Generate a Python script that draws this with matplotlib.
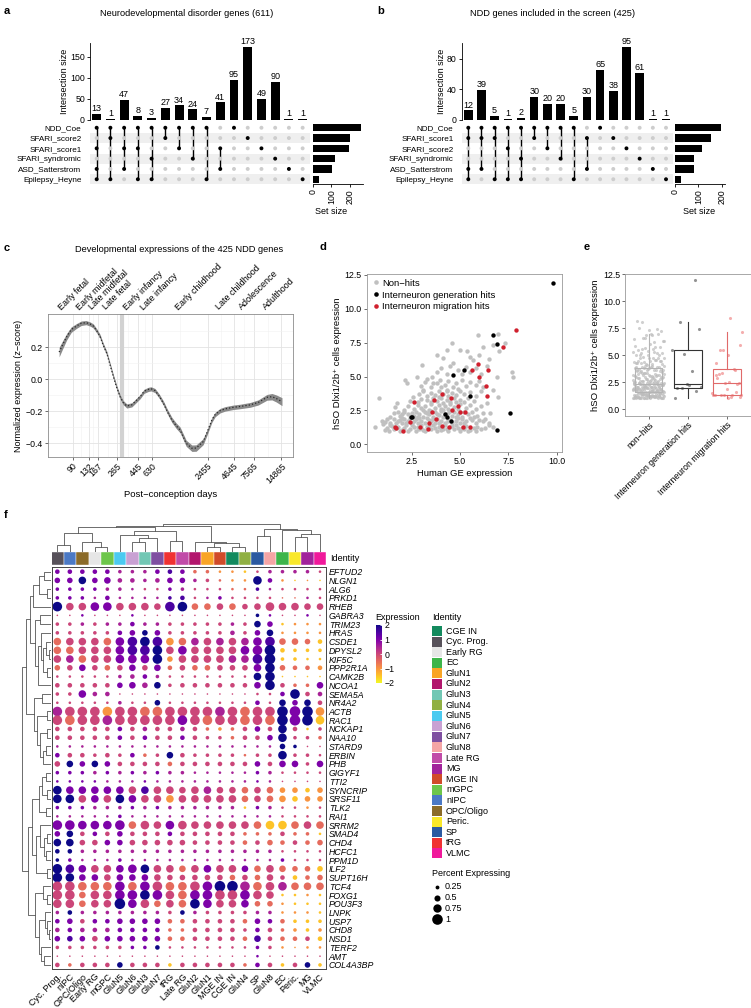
import numpy as np
import matplotlib
matplotlib.use("Agg")
import matplotlib.pyplot as plt
from matplotlib.lines import Line2D
from matplotlib.patches import Rectangle
from matplotlib.colors import Normalize
from matplotlib.cm import ScalarMappable
from matplotlib.ticker import FixedLocator, NullFormatter, NullLocator

plt.rcParams['font.family'] = ['Liberation Sans', 'DejaVu Sans']
plt.rcParams['font.size'] = 6
plt.rcParams['axes.linewidth'] = 0.6
plt.rcParams['xtick.major.width'] = 0.6
plt.rcParams['ytick.major.width'] = 0.6
plt.rcParams['xtick.major.size'] = 2
plt.rcParams['ytick.major.size'] = 2
plt.rcParams['xtick.major.pad'] = 1.5
plt.rcParams['ytick.major.pad'] = 1.5

# ---------------- data ----------------
# a / b : upset plots
sets_a = ['NDD_Coe', 'SFARI_score2', 'SFARI_score1', 'SFARI_syndromic', 'ASD_Satterstrom', 'Epilepsy_Heyne']
inter_a = [13, 1, 47, 8, 3, 27, 34, 24, 7, 41, 95, 173, 49, 90, 1, 1]
members_a = [[0, 2, 4, 5], [0, 1, 5], [0, 2, 4], [0, 2, 5], [0, 3, 5], [0, 1], [0, 2], [0, 3], [0, 5],
             [2, 4], [0], [1], [2], [3], [4], [5]]

sets_b = ['NDD_Coe', 'SFARI_score1', 'SFARI_score2', 'SFARI_syndromic', 'ASD_Satterstrom', 'Epilepsy_Heyne']
inter_b = [12, 39, 5, 1, 2, 30, 20, 20, 5, 30, 65, 38, 95, 61, 1, 1]
members_b = [[0, 1, 4, 5], [0, 1, 4], [0, 1, 5], [0, 2, 5], [0, 3, 5], [0, 1], [0, 2], [0, 3], [0, 5],
             [1, 4], [0], [1], [2], [3], [4], [5]]

# c : developmental trajectory
age_ticks = [90, 132, 167, 265, 445, 630, 2455, 4645, 7565, 14865]
periods = ['Early fetal', 'Early midfetal', 'Late midfetal', 'Late fetal', 'Early infancy', 'Late infancy',
           'Early childhood', 'Late childhood', 'Adolescence', 'Adulthood']
period_pos = [71, 109, 148, 210, 343, 529, 1243, 3377, 5928, 10604]
birth_day = 300
curve_days = [64, 69, 77, 86, 98, 110, 124, 137, 148, 162, 175, 188, 206, 223, 242, 262, 285, 307, 336, 380,
              412, 466, 514, 572, 611, 673, 744, 826, 905, 1015, 1128, 1244, 1442, 1659, 1842, 2189, 2415,
              2710, 2938, 3321, 3755, 4606, 5430, 6937, 8443, 10450, 11820, 13130, 15110]
curve_z = [0.17, 0.21, 0.266, 0.31, 0.333, 0.35, 0.354, 0.345, 0.333, 0.30, 0.266, 0.215, 0.162, 0.09, 0.016,
           -0.05, -0.109, -0.145, -0.167, -0.16, -0.14, -0.109, -0.075, -0.063, -0.06, -0.071, -0.105, -0.15,
           -0.2, -0.254, -0.29, -0.317, -0.40, -0.431, -0.43, -0.39, -0.33, -0.254, -0.22, -0.196, -0.185,
           -0.175, -0.17, -0.16, -0.145, -0.113, -0.109, -0.12, -0.14]
curve_se = [0.03, 0.026, 0.02, 0.017, 0.015, 0.014, 0.013, 0.013, 0.013, 0.013, 0.013, 0.013, 0.013, 0.013,
            0.013, 0.013, 0.013, 0.013, 0.013, 0.013, 0.013, 0.013, 0.013, 0.013, 0.013, 0.013, 0.013, 0.014,
            0.015, 0.016, 0.017, 0.018, 0.019, 0.02, 0.02, 0.019, 0.017, 0.015, 0.014, 0.014, 0.014, 0.014,
            0.014, 0.015, 0.016, 0.018, 0.02, 0.022, 0.025]

# d / e : expression scatter
nonhit_x = [0.6, 1.0, 1.2, 1.4, 1.6, 1.8, 1.9, 2.1, 2.2, 2.4, 2.6, 2.7, 2.9, 3.0, 3.2, 3.3, 3.5, 3.6, 3.8, 3.9,
            4.1, 4.2, 4.4, 4.5, 4.7, 4.8, 5.0, 5.1, 5.3, 5.5, 5.7, 5.9, 6.1, 6.3, 6.5, 2.0, 3.1, 4.3, 5.4, 1.5,
            1.1, 1.7, 2.3, 2.5, 2.8, 3.4, 3.7, 4.0, 4.6, 5.2, 5.8, 6.7, 1.3, 3.0, 4.9,
            0.95, 1.2, 1.4, 1.6, 1.8, 2.0, 2.1, 2.3, 2.5, 2.7, 2.8, 3.0, 3.2, 3.3, 3.5, 3.7, 3.8, 4.0, 4.2, 4.3,
            4.5, 4.6, 4.8, 5.0, 5.1, 5.3, 5.6, 5.8, 6.0, 6.3, 6.5, 2.4, 3.6, 4.9, 1.7,
            1.1, 1.9, 2.2, 2.6, 2.9, 3.4, 3.9, 4.4, 5.2, 5.5, 6.2, 2.0,
            1.38, 1.6, 1.9, 2.1, 2.3, 2.6, 2.7, 2.9, 3.1, 3.2, 3.4, 3.6, 3.7, 3.9, 4.0, 4.1, 4.4, 4.6, 4.7, 4.9,
            5.1, 5.2, 5.4, 5.6, 5.9, 6.2, 6.55, 3.3, 4.5,
            1.8, 2.0, 2.5, 2.8, 3.5, 3.8, 4.2, 4.8, 5.0, 5.7,
            1.64, 2.12, 2.33, 2.6, 2.8, 3.0, 3.2, 3.4, 3.5, 3.7, 3.9, 4.0, 4.2, 4.4, 4.5, 4.7, 4.9, 5.0, 5.3, 5.5,
            5.8, 6.1, 3.1, 4.1,
            0.79, 1.72, 2.4, 2.59, 2.8, 3.0, 3.28, 3.5, 3.6, 3.8, 4.0, 4.1, 4.3, 4.5, 4.7, 4.8, 5.0, 5.2, 5.4, 5.7,
            6.38, 6.98, 3.9,
            2.9, 3.1, 3.3, 3.5, 3.7, 3.9, 4.1, 4.3, 4.4, 4.6, 4.8, 5.0, 5.2, 5.5, 5.8, 6.1, 3.1, 4.31, 6.72,
            2.16, 2.24, 2.79, 3.0, 3.2, 3.28, 3.5, 3.6, 3.79, 3.97, 4.0, 4.2, 4.4, 4.66, 4.8, 5.09, 5.3, 5.5, 5.8,
            6.0, 6.2, 6.9, 3.53, 4.9,
            3.02, 3.8, 4.0, 4.3, 4.66, 4.9, 5.1, 5.3, 5.5, 5.8, 6.1, 6.4, 7.67, 7.76, 4.5,
            3.79, 4.14, 4.31, 4.6, 5.0, 5.35, 5.52, 5.69, 5.95, 6.2, 6.72, 6.98, 7.34, 6.0, 6.5, 7.0]
nonhit_y = [1.26, 1.5, 1.2, 1.4, 1.1, 1.3, 1.0, 1.2, 1.45, 1.1, 1.3, 1.0, 1.15, 1.4, 1.0, 1.25, 1.1, 1.45, 1.0,
            1.3, 1.15, 1.4, 1.0, 1.25, 1.1, 1.4, 1.0, 1.2, 1.35, 1.05, 1.2, 1.3, 1.1, 1.2, 1.4, 1.05, 1.05, 1.1,
            1.0, 1.35,
            1.05, 1.2, 1.0, 1.4, 1.25, 1.35, 1.2, 1.05, 1.35, 1.1, 1.0, 1.25, 1.0, 1.2, 1.2,
            1.75, 1.85, 1.6, 1.9, 1.7, 1.55, 1.9, 1.7, 1.6, 1.85, 1.55, 1.75, 1.6, 1.95, 1.7, 1.6, 1.9, 1.75, 1.6,
            1.95, 1.8, 1.55, 1.75, 1.6, 1.9, 1.7, 1.8, 1.6, 1.8, 1.9, 1.6, 1.95, 1.85, 1.95, 1.55,
            1.65, 1.8, 1.6, 1.75, 1.95, 1.8, 1.6, 1.7, 1.55, 1.95, 1.7, 1.95,
            2.04, 2.3, 2.1, 2.4, 2.2, 2.1, 2.4, 2.25, 2.05, 2.4, 2.2, 2.05, 2.35, 2.15, 2.45, 2.05, 2.3, 2.1, 2.4,
            2.2, 2.05, 2.35, 2.2, 2.4, 2.1, 2.3, 2.29, 2.3, 2.45,
            2.35, 2.2, 2.3, 2.05, 2.45, 2.25, 2.2, 2.05, 2.4, 2.05,
            2.78, 2.54, 2.83, 2.6, 2.9, 2.65, 2.85, 2.55, 2.95, 2.7, 2.9, 2.6, 2.8, 2.6, 2.95, 2.75, 2.6, 2.95,
            2.7, 2.9, 2.6, 2.8, 2.5, 2.5,
            3.4, 3.03, 3.2, 3.52, 3.1, 3.35, 3.28, 3.1, 3.45, 3.2, 3.4, 3.05, 3.3, 3.15, 3.45, 3.1, 3.3, 3.15,
            3.4, 3.2, 3.03, 3.52, 3.5,
            3.7, 3.9, 3.6, 3.8, 3.65, 3.95, 3.7, 3.9, 3.6, 3.8, 3.65, 3.9, 3.7, 3.85, 3.6, 3.9, 4.0, 4.0, 4.0,
            4.75, 4.5, 5.0, 4.3, 4.6, 4.8, 4.2, 4.5, 4.5, 4.75, 4.2, 4.4, 4.7, 4.26, 4.5, 4.75, 4.3, 4.6, 4.4,
            4.7, 4.2, 5.0, 5.0, 4.1,
            5.86, 5.3, 5.6, 5.2, 6.0, 5.5, 5.2, 5.7, 5.3, 5.6, 5.2, 5.8, 5.37, 5.0, 5.8,
            6.6, 6.35, 6.97, 7.5, 6.97, 6.85, 6.48, 6.2, 8.08, 7.2, 7.35, 8.15, 7.46, 6.6, 6.3, 6.9]
gen_x = [2.45, 2.5, 4.2, 4.3, 4.55, 4.65, 5.2, 5.5, 6.7, 6.9, 7.6, 6.9, 9.8]
gen_y = [2.0, 2.05, 2.25, 2.0, 1.7, 5.1, 5.45, 3.55, 8.05, 7.4, 2.3, 1.05, 11.9]
mig_x = [1.64, 1.69, 2.03, 2.62, 2.43, 2.93, 3.4, 3.36, 3.67, 3.53, 3.76, 4.07, 4.06, 4.53, 4.43, 4.6, 4.9,
         5.02, 5.26, 5.14, 5.52, 5.64, 5.95, 6.0, 6.34, 6.41, 6.47, 7.22, 7.88]
mig_y = [1.3, 1.18, 1.0, 3.15, 1.63, 1.3, 1.55, 1.13, 3.3, 2.4, 1.85, 1.35, 3.7, 3.4, 1.3, 2.5, 2.85, 2.35,
         2.4, 1.3, 1.3, 5.5, 5.9, 5.0, 4.3, 3.6, 5.45, 7.15, 8.45]
box_groups = ['non\u2212hits', 'Interneuron generation hits', 'Interneuron migration hits']

# f : dot plot
cell_types = ['Cyc. Prog.', 'nIPC', 'OPC/Oligo', 'Early RG', 'mGPC', 'GluN5', 'GluN6', 'GluN3', 'GluN7', 'tRG',
              'Late RG', 'GluN2', 'GluN1', 'MGE IN', 'CGE IN', 'GluN4', 'SP', 'GluN8', 'EC', 'Peric.', 'MG',
              'VLMC']
ident_colors = {'CGE IN': '#138a5e', 'Cyc. Prog.': '#57515a', 'Early RG': '#e6e6e6', 'EC': '#3db54a',
                'GluN1': '#f9a526', 'GluN2': '#b2166d', 'GluN3': '#72c7b4', 'GluN4': '#90b043',
                'GluN5': '#4bcaf0', 'GluN6': '#c9a1d3', 'GluN7': '#7f4fa1', 'GluN8': '#f5a5a5',
                'Late RG': '#c14ba8', 'MG': '#a1239b', 'MGE IN': '#d14b29', 'mGPC': '#6dc64b',
                'nIPC': '#4b79c5', 'OPC/Oligo': '#8b6b29', 'Peric.': '#f9e82a', 'SP': '#2b5aa1',
                'tRG': '#f03232', 'VLMC': '#f0199b'}
genes = ['EFTUD2', 'NLGN1', 'ALG6', 'PRKD1', 'RHEB', 'GABRA3', 'TRIM23', 'HRAS', 'CSDE1', 'DPYSL2', 'KIF5C',
         'PPP2R1A', 'CAMK2B', 'NCOA1', 'SEMA5A', 'NR4A2', 'ACTB', 'RAC1', 'NCKAP1', 'NAA10', 'STARD9', 'ERBIN',
         'PHB', 'GIGYF1', 'TTI2', 'SYNCRIP', 'SRSF11', 'TLK2', 'RAI1', 'SRRM2', 'SMAD4', 'CHD4', 'HCFC1',
         'PPM1D', 'ILF2', 'SUPT16H', 'TCF4', 'FOXG1', 'POU3F3', 'LNPK', 'USP7', 'CHD8', 'NSD1', 'TERF2', 'AMT',
         'COL4A3BP']
# scaled expression code per cell: 0 -> -2 ... 4 -> 0 ... 8 -> +2
expr_codes = [
    "6666655567633221455554", "6686655556654322862121", "6666555446544433754444", "6665655557745644443354",
    "8446644447833434444444", "4464446444444444864464", "4454556554444454861222", "4444466864444454682222",
    "3444367872354545673331", "3344467784644446681111", "4534466682444455781111", "3464346463433444683332",
    "4444455654444444881111", "4444466584444444684336", "4465544444444444446845", "4444454484444444648684",
    "5444244334444543448682", "4344544444643443438681", "4444464544543234648414", "4444464644644434468443",
    "5555555555555555558844", "6444446348444443448444", "4868644443444444646646", "6665656565555555654444",
    "6666555655555555654444", "8666664744445443432212", "8846486442444443432122", "6665556565555551654424",
    "5555565555555555554444", "6666663446444444311343", "6846464446444443334331", "8844664444444443433433",
    "8855555555555555554444", "8655565555555555556444", "8764466844346446343331", "8866466644444434344133",
    "4433363643346885345333", "4434466864366446441121", "4434486434386446332111", "5855555554854444552221",
    "6646666663344443663111", "5655566663344444643212", "6764666663344443743341", "4444446684444444642222",
    "4444444444444444644444", "4344484441444443641481"]
# percent expressing code per cell: 0 -> 0 ... 9 -> 1
pct_codes = [
    "3333322233322111122221", "4464533234422111731000", "2222221112211111211111", "2221311112311211110011",
    "8667766658855554576655", "0010001000000000210010", "2222223222222222541111", "2222234442222232451111",
    "6666678886666666785543", "6666678886766667893222", "6666677784666666892211", "4454445453444444684333",
    "1111123321111111680000", "3333345452333333583225", "2263300000000000113833", "1111121141111111315453",
    "8888888888888888889997", "8888888888888888889997", "3333333333332223437312", "3333333333332223347222",
    "1111111111111111114200", "3332323225322221227221", "4545433333333333435525", "2222222222211111221111",
    "1111111111111111110000", "7666666666566555554434", "7766676666666665555444", "2222222222222221221111",
    "1111121111111111111111", "8877786767766666677666", "4533343333333332223221", "6644444444433333343334",
    "3322222222222222221111", "2211121111111111112111", "8766667766566665565444", "8755555554444444453334",
    "8877787887788998777666", "8857788887788888761111", "7756697756687666441111", "2322222222322222221111",
    "3433344443333333433222", "3333333332233332332222", "4444444443333333533333", "2222222231111111221011",
    "0000000000000000100000", "3233343332333332332342"]
# dendrograms: (left, right, height); ints are leaf positions
top_tree = (((((0, 1, 20), (2, (3, 4, 15), 30), 55),
              ((5, ((6, 7, 28), 8, 40), 50), (9, 10, 33), 60), 72),
             (11, ((12, 13, 15), (14, 15, 13), 25), 30), 75),
            ((16, 17, 47), (18, ((19, 20, 43), 21, 53), 63), 68), 82)
gene_tree = (((((((0, 1, 20), (2, 3, 12), 35), 4, 50),
                ((5, 6, 30), ((7, ((8, (9, 10, 6), 14), (11, 12, 10), 22), 28), 13, 36), 45), 60),
               ((14, 15, 25), ((16, 17, 10), ((18, 19, 12), ((20, 21, 15), 22, 24), 30), 40), 48), 70)),
             (((((23, 24, 15), (25, 26, 12), 25), (27, 28, 14), 35),
               ((29, ((30, 31, 12), (32, 33, 14), 20), 30), (34, 35, 10), 42), 55),
              ((36, (37, 38, 10), 22), ((39, (40, (41, 42, 6), 10), 16), (43, (44, 45, 20), 28), 34), 45), 65),
             82)

# ---------------- figure ----------------
W, H = 751, 1008
fig = plt.figure(figsize=(W / 100, H / 100), dpi=100)


def px_axes(x0, y0, x1, y1):
    return fig.add_axes([x0 / W, 1 - y1 / H, (x1 - x0) / W, (y1 - y0) / H])


def ftext(x, y, s, **kw):
    fig.text(x / W, 1 - y / H, s, **kw)


def upset(x0, x1, ymax, yticks, set_x0, set_x1, setmax, sets, inter, members, title, title_x, letter,
          letter_x, setsize_x):
    n = len(inter)
    ax = px_axes(x0, 43, x1, 119.5)
    ax.bar(range(n), inter, width=0.65, color='black')
    for i, v in enumerate(inter):
        ax.text(i, v + ymax * 0.01, str(v), ha='center', va='bottom', fontsize=6.5)
    ax.set_xlim(-0.5, n - 0.5)
    ax.set_ylim(0, ymax)
    ax.set_yticks(yticks)
    ax.set_yticklabels([str(t) for t in yticks], fontsize=6.3)
    ax.set_xticks([])
    for s in ['top', 'right', 'bottom']:
        ax.spines[s].set_visible(False)
    ax.set_ylabel('Intersection size', fontsize=6.5, labelpad=1)

    mx = px_axes(x0, 122.6, x1, 184.4)
    for j in range(len(sets)):
        if j % 2 == 1:
            mx.axhspan(j - 0.5, j + 0.5, color='#efefef', zorder=0, lw=0)
    for i, mem in enumerate(members):
        col = ['black' if j in mem else '#cdcdcd' for j in range(len(sets))]
        mx.scatter([i] * len(sets), range(len(sets)), s=8, c=col, zorder=3, lw=0)
        if len(mem) > 1:
            mx.plot([i, i], [min(mem), max(mem)], color='black', lw=1.0, zorder=2)
    mx.set_xlim(-0.5, n - 0.5)
    mx.set_ylim(len(sets) - 0.5, -0.5)
    mx.set_xticks([])
    mx.set_yticks(range(len(sets)))
    mx.set_yticklabels(sets, fontsize=5.9)
    mx.tick_params(length=0, pad=6)
    for s in mx.spines.values():
        s.set_visible(False)

    sizes = [sum(v for v, m in zip(inter, members) if j in m) for j in range(len(sets))]
    sx = px_axes(set_x0, 122.6, set_x1, 184.4)
    sx.barh(range(len(sets)), sizes, height=0.72, color='black')
    sx.set_ylim(len(sets) - 0.5, -0.5)
    sx.set_xlim(0, setmax)
    sx.set_yticks([])
    sx.set_xticks([0, 100, 200])
    sx.set_xticklabels(['0', '100', '200'], rotation=90, fontsize=6.3)
    for s in ['top', 'right', 'left']:
        sx.spines[s].set_visible(False)
    ftext(setsize_x, 211, 'Set size', ha='center', va='center', fontsize=6.5)
    ftext(title_x, 14, title, ha='center', va='center', fontsize=6.7)
    ftext(letter_x, 11, letter, ha='left', va='center', fontsize=8, fontweight='bold')


upset(89.8, 309.5, 183, [0, 50, 100, 150], 312.7, 363, 269, sets_a, inter_a, members_a,
      'Neurodevelopmental disorder genes (611)', 187, 'a', 4, 331)
upset(461.7, 672.6, 100.4, [0, 40, 80], 675, 725, 214, sets_b, inter_b, members_b,
      'NDD genes included in the screen (425)', 553, 'b', 377, 699)

# ---- c ----
ax = px_axes(48, 314.3, 293, 456.7)
ax.set_xscale('log')
ax.set_xlim(48.7, 19800)
ax.set_ylim(-0.484, 0.406)
mids = [np.sqrt(age_ticks[i] * age_ticks[i + 1]) for i in range(len(age_ticks) - 1)]
ax.set_xticks(age_ticks)
ax.set_xticklabels([str(a) for a in age_ticks], rotation=45, ha='right', rotation_mode='anchor', fontsize=6.3)
ax.xaxis.set_minor_locator(FixedLocator(mids))
ax.xaxis.set_minor_formatter(NullFormatter())
ax.set_yticks([-0.4, -0.2, 0.0, 0.2])
ax.set_yticklabels(['\u22120.4', '\u22120.2', '0.0', '0.2'], fontsize=6.3)
ax.yaxis.set_minor_locator(FixedLocator([-0.3, -0.1, 0.1, 0.3]))
ax.tick_params(which='minor', length=0)
ax.tick_params(which='major', length=2, color='#555555')
ax.grid(which='major', color='#e3e3e3', lw=0.6)
ax.grid(which='minor', color='#f1f1f1', lw=0.4)
ax.set_axisbelow(True)
for s in ax.spines.values():
    s.set_color('#8c8c8c')
ax.axvline(birth_day, color='#d2d2d2', lw=3, zorder=1)
lo = np.array(curve_z) - np.array(curve_se)
hi = np.array(curve_z) + np.array(curve_se)
ax.fill_between(curve_days, lo, hi, color='#8a8a8a', lw=0, zorder=2)
ax.plot(curve_days, curve_z, color='#2b2b2b', lw=0.9, ls=':', zorder=3)
ax.set_xlabel('Post\u2212conception days', fontsize=6.8, labelpad=3)
ax.set_ylabel('Normalized expression (z\u2212score)', fontsize=6.5, labelpad=2)
ax2 = ax.twiny()
ax2.set_xscale('log')
ax2.set_xlim(ax.get_xlim())
ax2.set_xticks(period_pos)
ax2.set_xticklabels(periods, rotation=45, ha='left', rotation_mode='anchor', fontsize=6.5)
ax2.xaxis.set_minor_locator(NullLocator())
ax2.tick_params(length=0, pad=2)
for s in ax2.spines.values():
    s.set_visible(False)
ftext(179, 249, 'Developmental expressions of the 425 NDD genes', ha='center', va='center', fontsize=6.7)
ftext(4, 248, 'c', ha='left', va='center', fontsize=8, fontweight='bold')

# ---- d ----
ax = px_axes(366.7, 274, 561.7, 452.3)
ax.scatter(nonhit_x, nonhit_y, s=10, color='#c0c0c0', lw=0, zorder=2)
ax.scatter(gen_x, gen_y, s=10, color='black', lw=0, zorder=3)
ax.scatter(mig_x, mig_y, s=10, color='#d0202e', lw=0, zorder=3)
ax.set_xlim(0.17, 10.26)
ax.set_ylim(-0.59, 12.57)
ax.set_xticks([2.5, 5.0, 7.5, 10.0])
ax.set_xticklabels(['2.5', '5.0', '7.5', '10.0'], fontsize=6.3)
ax.set_yticks([0, 2.5, 5, 7.5, 10, 12.5])
ax.set_yticklabels(['0.0', '2.5', '5.0', '7.5', '10.0', '12.5'], fontsize=6.3)
for s in ax.spines.values():
    s.set_color('#9a9a9a')
ax.tick_params(color='#555555')
ax.set_xlabel('Human GE expression', fontsize=6.8, labelpad=2)
ax.set_ylabel('hSO Dlxi1/2b\u207a cells expression', fontsize=6.8, labelpad=2)
handles = [Line2D([], [], marker='o', ls='', ms=3.3, mec='none', color=c) for c in ['#c0c0c0', 'black', '#d0202e']]
ax.legend(handles, ['Non\u2212hits', 'Interneuron generation hits', 'Interneuron migration hits'],
          loc='upper left', frameon=False, fontsize=6.8, handletextpad=0.1, borderaxespad=0.3,
          labelspacing=0.3, handlelength=1.0, borderpad=0.2)
ftext(319, 247, 'd', ha='left', va='center', fontsize=8, fontweight='bold')

# ---- e ----
ax = px_axes(625, 274, 750.7, 415.7)
groups_y = [nonhit_y, gen_y, mig_y]
edge_cols = ['#b4b4b4', '#333333', '#e06a6a']
pt_cols = ['#bdbdbd', '#666666', '#f08c8c']
for k, yv in enumerate(groups_y):
    n = len(yv)
    jit = ((np.arange(n) * 0.618034 + 0.3) % 1 - 0.5) * 0.8
    ax.scatter(k + 1 + jit, yv, s=5, color=pt_cols[k], alpha=0.7, lw=0, zorder=2)
    bp = ax.boxplot([yv], positions=[k + 1], widths=0.7, showfliers=False, patch_artist=True)
    for b in bp['boxes']:
        b.set(facecolor='none', edgecolor=edge_cols[k], lw=0.8, zorder=3)
    for part in ['whiskers', 'medians']:
        for l in bp[part]:
            l.set(color=edge_cols[k], lw=0.8, zorder=3)
    for l in bp['caps']:
        l.set_visible(False)
ax.set_xlim(0.4, 3.6)
ax.set_ylim(-0.59, 12.5)
ax.set_xticks([1, 2, 3])
ax.set_xticklabels(box_groups, rotation=45, ha='right', rotation_mode='anchor', fontsize=6.3)
ax.set_yticks([0, 2.5, 5, 7.5, 10, 12.5])
ax.set_yticklabels(['0.0', '2.5', '5.0', '7.5', '10.0', '12.5'], fontsize=6.3)
for s in ax.spines.values():
    s.set_color('#9a9a9a')
ax.tick_params(color='#555555')
ax.set_ylabel('hSO Dlxi1/2b\u207a cells expression', fontsize=6.8, labelpad=2)
ftext(584, 247, 'e', ha='left', va='center', fontsize=8, fontweight='bold')

# ---- f ----
expr = np.array([[(int(ch) - 4) / 2 for ch in s] for s in expr_codes])
pct = np.array([[int(ch) / 9 for ch in s] for s in pct_codes])


def dot_s(p):
    return ((1.6 + 9.0 * np.asarray(p)) * 0.72) ** 2


nr, nc = expr.shape
ax = px_axes(51.7, 567.3, 326, 969.3)
xx, yy = np.meshgrid(np.arange(nc), np.arange(nr))
ax.scatter(xx.ravel(), yy.ravel(), s=dot_s(pct.ravel()), c=expr.ravel(), cmap='plasma_r', vmin=-2, vmax=2,
           lw=0)
ax.set_xlim(-0.45, 21.48)
ax.set_ylim(45.5, -0.5)
ax.set_xticks(range(nc))
ax.set_xticklabels(cell_types, rotation=45, ha='right', rotation_mode='anchor', fontsize=6.5)
ax.yaxis.tick_right()
ax.set_yticks(range(nr))
ax.set_yticklabels(genes, fontsize=6.3, style='italic')
ax.tick_params(length=0, pad=2)
for s in ax.spines.values():
    s.set_color('#444444')
    s.set_linewidth(0.7)

cb_ax = px_axes(51.7, 551.7, 326, 565)
cb_ax.bar(range(nc), [1] * nc, width=1, color=[ident_colors[c] for c in cell_types], edgecolor='white', lw=0.3)
cb_ax.set_xlim(-0.45, 21.48)
cb_ax.set_ylim(0, 1)
cb_ax.axis('off')
ftext(330, 558.5, 'Identity', ha='left', va='center', fontsize=6.5)


def draw_tree(a, node, horizontal):
    if isinstance(node, int):
        return node, 0
    l, r, h = node
    pl, hl = draw_tree(a, l, horizontal)
    pr, hr = draw_tree(a, r, horizontal)
    xs = [pl, pl, pr, pr]
    hs = [hl, h, h, hr]
    if horizontal:
        a.plot(hs, xs, color='#555555', lw=0.6)
    else:
        a.plot(xs, hs, color='#555555', lw=0.6)
    return (pl + pr) / 2, h


tx = px_axes(51.7, 522, 326, 551.7)
draw_tree(tx, top_tree, False)
tx.set_xlim(-0.45, 21.48)
tx.set_ylim(0, 88)
tx.axis('off')

lx = px_axes(20, 567.3, 51, 969.3)
draw_tree(lx, gene_tree, True)
lx.set_xlim(88, 0)
lx.set_ylim(45.5, -0.5)
lx.axis('off')
ftext(4, 515, 'f', ha='left', va='center', fontsize=8, fontweight='bold')

# legends of f
ftext(375, 617, 'Expression', ha='left', va='center', fontsize=6.5)
cax = px_axes(376, 625, 382, 683)
cbar = fig.colorbar(ScalarMappable(Normalize(-2, 2), 'plasma_r'), cax=cax, ticks=[-2, -1, 0, 1, 2])
cbar.outline.set_visible(False)
cax.tick_params(length=1.5, color='white', direction='in', labelsize=6.3, pad=2)

ftext(432, 617, 'Identity', ha='left', va='center', fontsize=6.5)
ov = fig.add_axes([0, 0, 1, 1])
ov.set_xlim(0, W)
ov.set_ylim(H, 0)
ov.axis('off')
legend_types = sorted(ident_colors.keys(), key=lambda s: s.lower().replace('.', ''))
for i, name in enumerate(legend_types):
    yc = 631 + 10.59 * i
    ov.add_patch(Rectangle((432, yc - 5), 9.5, 10, color=ident_colors[name], lw=0))
    ov.text(446, yc, name, ha='left', va='center', fontsize=6.5)
ftext(432, 873, 'Percent Expressing', ha='left', va='center', fontsize=6.5)
legend_pct = [0.25, 0.5, 0.75, 1]
for i, p in enumerate(legend_pct):
    yc = 886.7 + 10.8 * i
    ov.scatter([437], [yc], s=dot_s(p), color='black', lw=0)
    ov.text(445, yc, '%g' % p, ha='left', va='center', fontsize=6.5)

fig.savefig('out.png', dpi=100)
